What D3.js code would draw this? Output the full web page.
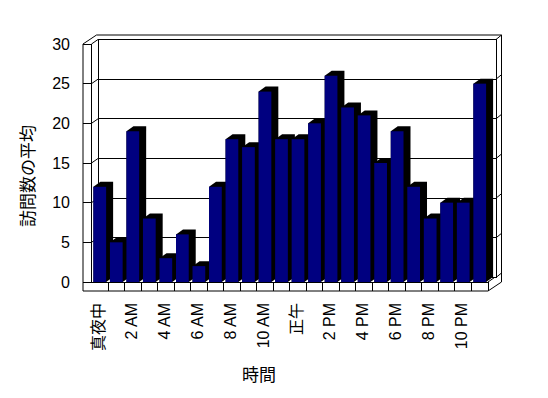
<!DOCTYPE html>
<html>
<head>
<meta charset="utf-8">
<script src="https://cdn.jsdelivr.net/npm/d3@7"></script>
<style>
  body { margin: 0; background: #fff; }
  text { font-family: "Liberation Sans", "Noto Sans CJK JP", sans-serif; fill: #000; }
</style>
</head>
<body>
<div id="chart"></div>
<script>
// hourly categories, every other one is labelled
var hours = ["真夜中", "1 AM", "2 AM", "3 AM", "4 AM", "5 AM", "6 AM", "7 AM", "8 AM", "9 AM", "10 AM", "11 AM",
             "正午", "1 PM", "2 PM", "3 PM", "4 PM", "5 PM", "6 PM", "7 PM", "8 PM", "9 PM", "10 PM", "11 PM"];
var visits = [12, 5, 19, 8, 3, 6, 2, 12, 18, 17, 24, 18, 18, 20, 26, 22, 21, 15, 19, 12, 8, 10, 10, 25];
var yTicks = [0, 5, 10, 15, 20, 25, 30];
var yTitle = "訪問数の平均";
var xTitle = "時間";

var width = 548, height = 398;
var plotLeft = 91.5, plotRight = 488, plotTop = 44, plotBottom = 282;
var floorLeft = 83, floorBottom = 291;
// depth offsets: wall face, outer shell, bars
var dx1 = 6.5, dy1 = -4.5, dx2 = 13.5, dy2 = -9;
var bdx = 7, bdy = -5;

var svg = d3.select("#chart")
  .append("svg")
  .attr("width", width)
  .attr("height", height);

var x = d3.scaleBand()
  .domain(hours)
  .range([plotLeft, plotRight])
  .paddingInner(0.23)
  .paddingOuter(0.115);

var y = d3.scaleLinear()
  .domain([0, 30])
  .range([plotBottom, plotTop]);

var edge = d3.scaleLinear().domain([0, hours.length]).range([plotLeft, plotRight]);

var frame = svg.append("g")
  .attr("fill", "none")
  .attr("stroke", "#000")
  .attr("stroke-width", 1)
  .attr("shape-rendering", "crispEdges");

// back wall face
frame.append("rect")
  .attr("x", plotLeft + dx1)
  .attr("y", plotTop + dy1)
  .attr("width", (plotRight + dx1 + 1.5) - (plotLeft + dx1))
  .attr("height", plotBottom - plotTop);

// outer shell
frame.append("path")
  .attr("shape-rendering", "auto")
  .attr("d", "M" + floorLeft + "," + plotTop + "V" + floorBottom + "H" + plotRight +
             "L" + (plotRight + dx2) + "," + (plotBottom) +
             "V" + (plotTop + dy2) + "H" + (floorLeft + dx2) + "Z");

// left wall front and floor front
frame.append("path")
  .attr("d", "M" + plotLeft + "," + plotBottom + "V" + plotTop + "H" + floorLeft);
frame.append("path")
  .attr("shape-rendering", "auto")
  .attr("d", "M" + plotLeft + "," + plotTop + "L" + (plotLeft + dx1) + "," + (plotTop + dy1));
frame.append("path")
  .attr("shape-rendering", "auto")
  .attr("d", "M" + (plotRight + dx1 + 1.5) + "," + (plotTop + dy1) + "L" + (plotRight + dx2) + "," + (plotTop + dy2));
frame.append("path")
  .attr("d", "M" + floorLeft + "," + plotBottom + "H" + plotRight + "V" + floorBottom);
frame.append("path")
  .attr("shape-rendering", "auto")
  .attr("d", "M" + plotRight + "," + plotBottom + "L" + (plotRight + dx1) + "," + (plotBottom + dy1));

// gridlines on back wall + ticks on side walls
yTicks.forEach(function(v) {
  var yf = y(v), yb = y(v) + dy1;
  frame.append("path")
    .attr("d", "M" + (plotLeft + dx1) + "," + yb + "H" + (plotRight + dx1 + 1.5));
  if (v > 0 && v < 30) {
    frame.append("path")
      .attr("d", "M" + floorLeft + "," + yf + "H" + plotLeft);
    frame.append("path")
      .attr("shape-rendering", "auto")
      .attr("d", "M" + plotLeft + "," + yf + "L" + (plotLeft + dx1) + "," + yb);
  }
  if (v < 30) {
    frame.append("path")
      .attr("shape-rendering", "auto")
      .attr("d", "M" + (plotRight + dx1 + 1.5) + "," + yb + "L" + (plotRight + dx2) + "," + (yb + dy1));
  }
});

// floor tick divisions
d3.range(1, hours.length).forEach(function(i) {
  frame.append("path")
    .attr("d", "M" + edge(i) + "," + plotBottom + "V" + floorBottom);
});

// bars: black side/top then navy front
var bars = svg.append("g")
  .selectAll("g")
  .data(visits)
  .enter()
  .append("g");

bars.append("path")
  .attr("fill", "#000")
  .attr("d", function(d, i) {
    var x0 = x(hours[i]), w = x.bandwidth(), yt = y(d), yb = y(0);
    return "M" + x0 + "," + yb + "V" + yt + "L" + (x0 + bdx) + "," + (yt + bdy) +
           "H" + (x0 + w + bdx) + "V" + (yb + bdy) + "L" + (x0 + w) + "," + yb + "Z";
  });

bars.append("rect")
  .attr("fill", "#000080")
  .attr("x", function(d, i) { return x(hours[i]); })
  .attr("y", function(d) { return y(d); })
  .attr("width", x.bandwidth())
  .attr("height", function(d) { return y(0) - y(d); });

// y axis labels
var yAxis = svg.append("g")
  .attr("transform", "translate(" + floorLeft + ",0)")
  .call(d3.axisLeft(y).tickValues(yTicks).tickSize(0).tickPadding(13));
yAxis.select(".domain").remove();
yAxis.selectAll("text")
  .style("font-size", "16px")
  .style("font-family", null);

// x axis labels, rotated
var xAxis = svg.append("g")
  .attr("transform", "translate(0," + floorBottom + ")")
  .call(d3.axisBottom(x).tickSize(0)
    .tickFormat(function(d, i) { return i % 2 === 0 ? d : ""; }));
xAxis.select(".domain").remove();
xAxis.selectAll("text")
  .style("font-size", "16px")
  .style("font-family", null)
  .attr("transform", "rotate(-90)")
  .attr("text-anchor", "end")
  .attr("x", -12)
  .attr("y", -1.5)
  .attr("dy", "0.35em");

// titles
svg.append("text")
  .attr("transform", "translate(28,176) rotate(-90)")
  .attr("text-anchor", "middle")
  .attr("dy", "0.35em")
  .style("font-size", "17px")
  .text(yTitle);

svg.append("text")
  .attr("x", 259)
  .attr("y", 375)
  .attr("text-anchor", "middle")
  .attr("dy", "0.35em")
  .style("font-size", "17px")
  .text(xTitle);
</script>
</body>
</html>
